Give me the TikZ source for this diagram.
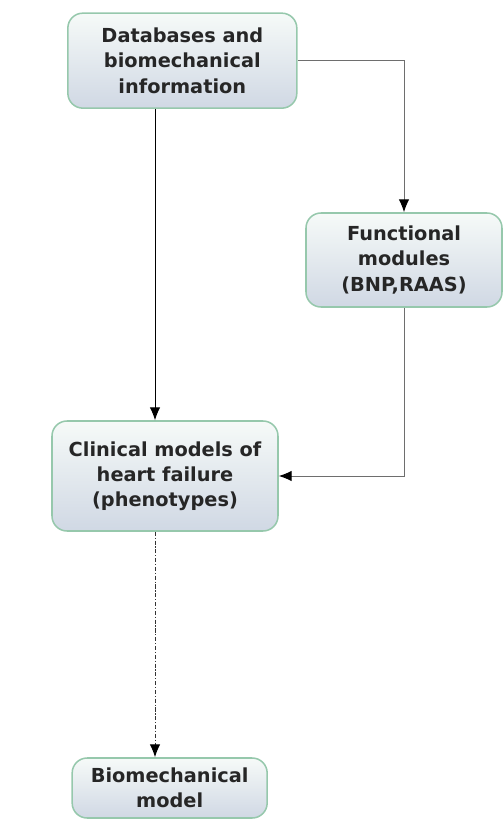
\documentclass[tikz,border=0pt]{standalone}
\usepackage{fontspec}
\setmainfont{DejaVu Sans}
\usetikzlibrary{arrows.meta,shadows}

\definecolor{boxline}{RGB}{150,200,172}
\definecolor{boxtop}{RGB}{246,250,248}
\definecolor{boxbottom}{RGB}{208,216,228}
\definecolor{linkgray}{RGB}{110,110,110}

\begin{document}
\begin{tikzpicture}
                \useasboundingbox (0,0) rectangle (15.09,-24.69);
                \coordinate (lx) at (4.65,0);

                \begin{scope}[every node/.style={draw=boxline, line width=1.3pt, rounded corners=0.45cm, top color=boxtop, bottom color=boxbottom, align=center, font=\fontsize{16.5}{21.5}\selectfont\bfseries, text=black!85, inner sep=2pt}]
                        \node [minimum width=6.87cm, minimum height=2.85cm] (db) at (5.47,-1.82) {Databases and\\biomechanical\\information};
                        \node [minimum width=5.88cm, minimum height=2.82cm] (func) at (12.12,-7.80) {Functional\\modules\\(BNP,RAAS)};
                        \node [minimum width=6.78cm, minimum height=3.30cm] (clin) at (4.95,-14.28) {Clinical models of\\heart failure\\(phenotypes)};
                        \node [minimum width=5.85cm, minimum height=1.80cm] (bio) at (5.09,-23.64) {Biomechanical\\model};
                \end{scope}

                \begin{scope}[every path/.style={line width=0.8pt, -{Latex[length=11pt,width=9pt,color=black]}}]
                        \path [draw=black] (db.south -| lx) -- (clin.north -| lx);
                        \path [draw=linkgray] (db.east) -| (func.north);
                        \path [draw=linkgray] (func.south) |- (clin.east);
                        \path [draw=black!80, dash pattern=on 3.5pt off 1.5pt on 1pt off 1.5pt] (clin.south -| lx) -- (bio.north -| lx);
                \end{scope}
\end{tikzpicture}
\end{document}
